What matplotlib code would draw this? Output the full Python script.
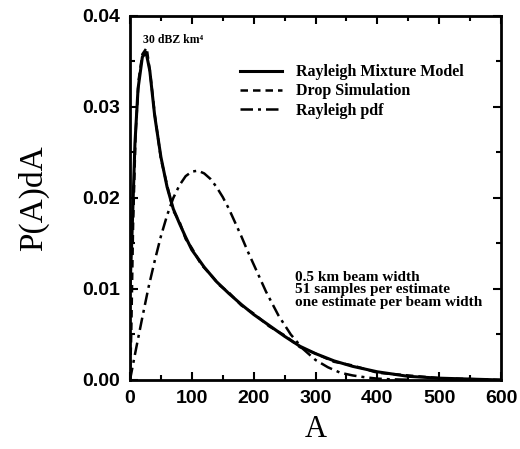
import matplotlib
matplotlib.use("Agg")
import matplotlib.pyplot as plt
from matplotlib.ticker import MultipleLocator

# Rayleigh Mixture Model
mix_A = [0, 3, 8, 13, 20, 26, 32, 40, 50, 60, 70, 80, 90, 100, 120, 140, 160, 180,
         200, 225, 250, 275, 300, 330, 360, 400, 450, 500, 550, 600]
mix_P = [0.010, 0.0155, 0.026, 0.032, 0.0355, 0.036, 0.034, 0.029, 0.0245, 0.0212,
         0.0188, 0.0172, 0.0157, 0.0143, 0.0124, 0.0108, 0.0095, 0.0083, 0.0072,
         0.0060, 0.0048, 0.0037, 0.0029, 0.0021, 0.0015, 0.0009, 0.0004, 0.0002,
         0.0001, 0.0]

# Drop Simulation
drop_A = [0, 2, 5, 9, 14, 20, 27, 33, 40, 50, 60, 70, 80, 90, 100, 115, 130, 145,
          160, 180, 200, 225, 250, 275, 300, 330, 360, 400, 450, 500, 550, 600]
drop_P = [0.0, 0.005, 0.017, 0.027, 0.033, 0.0358, 0.0365, 0.0335, 0.0292, 0.0243,
          0.0214, 0.0186, 0.0174, 0.0155, 0.0145, 0.0127, 0.0116, 0.0104, 0.0096,
          0.0082, 0.0073, 0.0059, 0.0049, 0.0036, 0.0029, 0.0020, 0.0016, 0.0008,
          0.0005, 0.0002, 0.0001, 0.0]

# Rayleigh pdf
ray_A = [0, 10, 20, 30, 40, 50, 60, 70, 80, 90, 100, 110, 120, 130, 140, 150, 160,
         170, 180, 190, 200, 220, 240, 260, 280, 300, 320, 340, 360, 380, 400, 420, 450]
ray_P = [0.0, 0.0035, 0.0069, 0.0102, 0.0131, 0.0158, 0.0181, 0.0200, 0.0214,
         0.0224, 0.0229, 0.0230, 0.0227, 0.0221, 0.0212, 0.0201, 0.0188, 0.0173,
         0.0158, 0.0142, 0.0127, 0.0097, 0.0071, 0.0050, 0.0034, 0.0022, 0.0014,
         0.0008, 0.0005, 0.0003, 0.00015, 0.00008, 0.00003]

labels = ["Rayleigh Mixture Model", "Drop Simulation", "Rayleigh pdf"]
xticks = [0, 100, 200, 300, 400, 500, 600]
yticks = [0.00, 0.01, 0.02, 0.03, 0.04]

serif = ["Liberation Serif", "DejaVu Serif"]
sans = ["Liberation Sans", "DejaVu Sans"]

fig = plt.figure(figsize=(5.2, 4.49), dpi=100)
ax = fig.add_axes([0.25, 0.1537, 0.7135, 0.8107])

ax.plot(mix_A, mix_P, color="black", lw=2.2, ls="-", label=labels[0])
ax.plot(drop_A, drop_P, color="black", lw=1.8, ls=(0, (3, 2)), label=labels[1])
ax.plot(ray_A, ray_P, color="black", lw=1.8, ls=(0, (5, 2, 1.2, 2)), label=labels[2])

ax.set_xlim(0, 600)
ax.set_ylim(0, 0.04)
ax.set_xticks(xticks)
ax.set_yticks(yticks)
ax.set_xticklabels([str(v) for v in xticks])
ax.set_yticklabels([f"{v:.2f}" for v in yticks])
ax.xaxis.set_minor_locator(MultipleLocator(50))
ax.yaxis.set_minor_locator(MultipleLocator(0.005))
ax.tick_params(which="both", direction="in", top=True, right=True, width=1.5)
ax.tick_params(which="major", length=6, pad=7)
ax.tick_params(which="minor", length=3.5)
for lab in ax.get_xticklabels() + ax.get_yticklabels():
    lab.set_fontfamily(sans)
    lab.set_fontweight("bold")
    lab.set_fontsize(14)
for s in ax.spines.values():
    s.set_linewidth(2)

ax.set_xlabel("A", family=serif, fontsize=22, labelpad=6)
ax.set_ylabel("P(A)dA", family=serif, fontsize=24, labelpad=24)

leg = ax.legend(loc="upper left", bbox_to_anchor=(0.28, 0.885), frameon=False,
                prop={"family": serif, "weight": "bold", "size": 11.5},
                handlelength=2.6, handletextpad=0.9, labelspacing=0.2,
                borderaxespad=0)

ax.text(21, 0.0374, "30 dBZ km\u2074", family=serif, weight="bold", fontsize=8.5,
        va="center", ha="left")
ax.text(267, 0.0120, "0.5 km beam width\n51 samples per estimate\none estimate per beam width",
        family=serif, weight="bold", fontsize=11, va="top", ha="left", linespacing=0.95)

fig.savefig("out.png", dpi=100)
